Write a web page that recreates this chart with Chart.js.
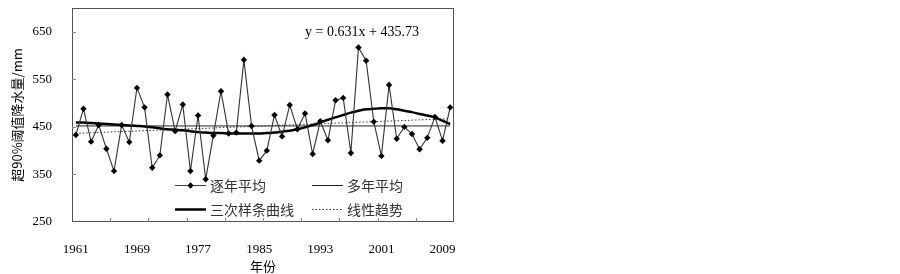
<!DOCTYPE html>
<html>
<head>
<meta charset="utf-8">
<script src="https://cdn.jsdelivr.net/npm/chart.js@4/dist/chart.umd.min.js"></script>
<style>
  html, body { margin: 0; padding: 0; background: #fff; }
  #wrap { width: 900px; height: 274px; }
</style>
</head>
<body>
<div id="wrap"><canvas id="c" width="900" height="274"></canvas></div>
<script>
// ---- data ----
const years = [];
for (let y = 1961; y <= 2010; y++) years.push(String(y));
const xTickLabels = ['1961', '1969', '1977', '1985', '1993', '2001', '2009'];
const yTicks = [250, 350, 450, 550, 650];

const annual = [433, 488, 419, 454, 404, 357, 454, 418, 532, 491,
                364, 390, 518, 441, 497, 357, 474, 340, 432, 525,
                436, 438, 591, 452, 379, 400, 475, 430, 496, 445,
                478, 393, 462, 422, 506, 511, 395, 617, 589, 461,
                389, 538, 425, 450, 435, 403, 427, 471, 421, 491];

const spline = [459, 459, 458, 457, 456, 455, 454, 453, 452, 451,
                449, 447, 445, 444, 443, 441, 439, 438, 437, 437,
                436, 436, 436, 436, 436, 437, 438, 440, 442, 445,
                449, 454, 459, 465, 470, 475, 480, 484, 487, 488,
                489, 489, 487, 484, 481, 477, 474, 470, 463, 456];

const meanValue = 452;
const trendStart = 436.4;
const trendEnd = 467.3;
const equationText = 'y = 0.631x + 435.73';

const meanLine = years.map((_, i) => (i === 0 || i === years.length - 1) ? meanValue : null);
const trendLine = years.map((_, i) => i === 0 ? trendStart : (i === years.length - 1 ? trendEnd : null));

const serif = '"Liberation Serif", "Times New Roman", "Noto Sans CJK SC", serif';
const cjk = '"Noto Sans CJK SC", "Liberation Serif", sans-serif';

const legendItems = [
  { text: '逐年平均', row: 0, col: 0, color: '#404040', width: 1, dash: [], marker: true },
  { text: '多年平均', row: 0, col: 1, color: '#222', width: 1, dash: [], marker: false },
  { text: '三次样条曲线', row: 1, col: 0, color: '#000', width: 2.5, dash: [], marker: false },
  { text: '线性趋势', row: 1, col: 1, color: '#333', width: 1, dash: [1.5, 2], marker: false }
];

const decor = {
  id: 'decor',
  afterDraw(chart) {
    const ctx = chart.ctx;
    const a = chart.chartArea;
    const xs = chart.scales.x, ys = chart.scales.y;
    ctx.save();
    // frame
    ctx.strokeStyle = '#555';
    ctx.lineWidth = 1;
    ctx.strokeRect(Math.round(a.left) + 0.5, Math.round(a.top) + 0.5,
                   Math.round(a.right - a.left) - 1, Math.round(a.bottom - a.top) - 1);
    // inward y ticks
    ctx.strokeStyle = '#888';
    yTicks.forEach(v => {
      if (v === ys.min) return;
      const py = Math.round(ys.getPixelForValue(v)) + 0.5;
      ctx.beginPath(); ctx.moveTo(a.left, py); ctx.lineTo(a.left + 4, py); ctx.stroke();
    });
    // inward x ticks at category boundaries every 5
    for (let i = 5; i < years.length; i += 5) {
      const px = Math.round((xs.getPixelForValue(i - 1) + xs.getPixelForValue(i)) / 2) + 0.5;
      ctx.beginPath(); ctx.moveTo(px, a.bottom); ctx.lineTo(px, a.bottom - 4); ctx.stroke();
    }
    // equation
    ctx.fillStyle = '#000';
    ctx.font = '14px ' + serif;
    ctx.textAlign = 'center';
    ctx.textBaseline = 'middle';
    ctx.fillText(equationText, 362, 32);
    // legend
    const colX = [175, 312];
    const rowY = [185, 209];
    ctx.textAlign = 'left';
    ctx.font = '14px ' + cjk;
    legendItems.forEach(it => {
      const x0 = colX[it.col], y0 = rowY[it.row];
      ctx.strokeStyle = it.color;
      ctx.lineWidth = it.width;
      ctx.setLineDash(it.dash);
      ctx.beginPath(); ctx.moveTo(x0, y0 + 0.5); ctx.lineTo(x0 + 31, y0 + 0.5); ctx.stroke();
      ctx.setLineDash([]);
      if (it.marker) {
        const cx = x0 + 15.5, cy = y0 + 0.5, r = 3.2;
        ctx.fillStyle = '#000';
        ctx.beginPath();
        ctx.moveTo(cx, cy - r); ctx.lineTo(cx + r, cy); ctx.lineTo(cx, cy + r); ctx.lineTo(cx - r, cy);
        ctx.closePath(); ctx.fill();
      }
      ctx.fillStyle = '#333';
      ctx.fillText(it.text, x0 + 35, y0 + 1);
    });
    ctx.restore();
  }
};

new Chart(document.getElementById('c'), {
  type: 'line',
  data: {
    labels: years,
    datasets: [
      { label: '逐年平均', data: annual, borderColor: '#333', borderWidth: 1.1,
        pointStyle: 'rectRot', pointRadius: 3.2, pointBackgroundColor: '#000',
        pointBorderColor: '#000', pointBorderWidth: 0, tension: 0, order: 0 },
      { label: '多年平均', data: meanLine, borderColor: '#222', borderWidth: 1,
        pointRadius: 0, spanGaps: true, order: 3 },
      { label: '三次样条曲线', data: spline, borderColor: '#000', borderWidth: 2.5,
        pointRadius: 0, tension: 0.4, cubicInterpolationMode: 'monotone', order: 1 },
      { label: '线性趋势', data: trendLine, borderColor: '#333', borderWidth: 1,
        borderDash: [1.5, 2], pointRadius: 0, spanGaps: true, order: 2 }
    ]
  },
  options: {
    responsive: false,
    animation: false,
    devicePixelRatio: 1,
    layout: { padding: { left: 0, top: 8, right: 446, bottom: 0 } },
    plugins: { legend: { display: false }, tooltip: { enabled: false } },
    scales: {
      x: {
        type: 'category',
        offset: true,
        grid: { display: false },
        border: { display: false },
        afterFit(s) { s.height = 52; s.paddingLeft = 0; s.paddingRight = 0; },
        ticks: {
          autoSkip: false, maxRotation: 0, minRotation: 0,
          padding: 12, color: '#000',
          font: { family: serif, size: 13 },
          callback(v, i) { const l = years[i]; return xTickLabels.includes(l) ? l : ''; }
        },
        title: { display: true, text: '年份', color: '#000',
                 font: { family: cjk, size: 13 }, padding: { top: 1, bottom: 0 } }
      },
      y: {
        min: 250, max: 700,
        grid: { display: false },
        border: { display: false },
        afterFit(s) { s.width = 72; s.paddingTop = 0; s.paddingBottom = 0; },
        afterBuildTicks(s) { s.ticks = yTicks.map(v => ({ value: v })); },
        ticks: { padding: 12, color: '#000', font: { family: serif, size: 13 } },
        title: { display: true, text: '超90%阈值降水量/mm', color: '#000',
                 font: { family: cjk, size: 13 }, padding: { top: 9, bottom: 0 } }
      }
    }
  },
  plugins: [decor]
});
</script>
</body>
</html>
